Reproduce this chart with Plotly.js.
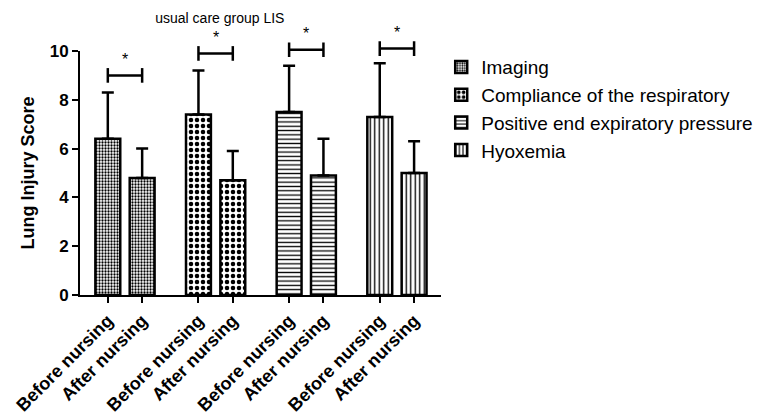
<!DOCTYPE html>
<html>
<head>
<meta charset="utf-8">
<script src="https://cdn.plot.ly/plotly-3.0.1.min.js"></script>
<style>
html,body{margin:0;padding:0;background:#fff;}
#chart{width:766px;height:415px;}
</style>
</head>
<body>
<div id="chart"></div>
<script>
// ---- data ----
const groups = ["Imaging", "Compliance of the respiratory", "Positive end expiratory pressure", "Hyoxemia"];
const timepoints = ["Before nursing", "After nursing"];
const imagingMean = [6.4, 4.8];
const complianceMean = [7.4, 4.7];
const peepMean = [7.5, 4.9];
const hyoxemiaMean = [7.3, 5.0];
const imagingUpper = [8.3, 6.0];
const complianceUpper = [9.2, 5.9];
const peepUpper = [9.4, 6.4];
const hyoxemiaUpper = [9.5, 6.3];
const sigLevel = [9.0, 9.9, 10.05, 10.1];   // significance bracket heights
const sigMark = "*";
const chartTitle = "usual care group LIS";
const yTitle = "Lung Injury Score";

// ---- layout helpers ----
const means = [imagingMean, complianceMean, peepMean, hyoxemiaMean];
const uppers = [imagingUpper, complianceUpper, peepUpper, hyoxemiaUpper];
const patterns = [
  {shape: ".", size: 3, solidity: 0.45},
  {shape: ".", size: 6, solidity: 0.45},
  {shape: "-", size: 4.3, solidity: 0.3},
  {shape: "|", size: 4.5, solidity: 0.3}
];
const groupStep = 2.64;
const yMax = 10;
const font = "Liberation Sans, Arial, sans-serif";

const pos = (g, k) => g * groupStep + k;

const traces = groups.map((name, g) => ({
  type: "bar",
  name: name,
  x: timepoints.map((t, k) => pos(g, k)),
  y: means[g],
  width: 0.725,
  marker: {
    color: "#ffffff",
    line: {color: "#000", width: 2.5},
    pattern: Object.assign({fgcolor: "#000", bgcolor: "#fff", fillmode: "replace"}, patterns[g])
  },
  error_y: {
    type: "data", symmetric: false,
    array: uppers[g].map((u, k) => u - means[g][k]),
    arrayminus: means[g].map(() => 0),
    color: "#000", thickness: 2.5, width: 6
  }
}));

const tickvals = [], ticktext = [];
groups.forEach((_, g) => timepoints.forEach((t, k) => { tickvals.push(pos(g, k)); ticktext.push(t); }));

const shapes = [], annotations = [];
const capH = 0.03;
groups.forEach((_, g) => {
  const x0 = pos(g, 0), x1 = pos(g, 1), yp = sigLevel[g] / yMax;
  const ln = {color: "#000", width: 2.5};
  shapes.push({type: "line", xref: "x", yref: "paper", x0: x0, x1: x1, y0: yp, y1: yp, line: ln});
  shapes.push({type: "line", xref: "x", yref: "paper", x0: x0, x1: x0, y0: yp - capH, y1: yp + capH, line: ln});
  shapes.push({type: "line", xref: "x", yref: "paper", x0: x1, x1: x1, y0: yp - capH, y1: yp + capH, line: ln});
  annotations.push({xref: "x", yref: "paper", x: (x0 + x1) / 2, y: yp, text: sigMark, showarrow: false,
    yanchor: "middle", yshift: 16, font: {family: font, size: 16, color: "#000"}});
});

const layout = {
  width: 766, height: 415,
  margin: {l: 80, r: 323, t: 51, b: 120},
  paper_bgcolor: "#fff", plot_bgcolor: "#fff",
  font: {family: font, color: "#000"},
  title: {text: chartTitle, font: {family: font, size: 14, color: "#000"},
          xref: "container", x: 0.287, xanchor: "center", yref: "container", y: 0.957, yanchor: "middle"},
  barmode: "overlay",
  showlegend: true,
  legend: {xref: "container", yref: "container", x: 0.576, y: 0.884, xanchor: "left", yanchor: "top",
           font: {family: font, size: 19, color: "#000"}, bgcolor: "rgba(0,0,0,0)", tracegroupgap: 0},
  xaxis: {
    range: [-0.81, 9.71], showgrid: false, zeroline: false,
    showline: true, linecolor: "#000", linewidth: 2,
    tickmode: "array", tickvals: tickvals, ticktext: ticktext,
    ticks: "outside", ticklen: 6, tickwidth: 2, tickcolor: "#000",
    tickangle: -45,
    tickfont: {family: font, size: 18, weight: "bold", color: "#000"}
  },
  yaxis: {
    range: [0, yMax], dtick: 2, showgrid: false, zeroline: false,
    showline: true, linecolor: "#000", linewidth: 2,
    ticks: "outside", ticklen: 6, tickwidth: 2, tickcolor: "#000",
    tickfont: {family: font, size: 17, weight: "bold", color: "#000"},
    title: {text: yTitle, font: {family: font, size: 18, weight: "bold", color: "#000"}, standoff: 10}
  },
  shapes: shapes,
  annotations: annotations
};

Plotly.newPlot("chart", traces, layout, {staticPlot: true, displayModeBar: false});
</script>
</body>
</html>
